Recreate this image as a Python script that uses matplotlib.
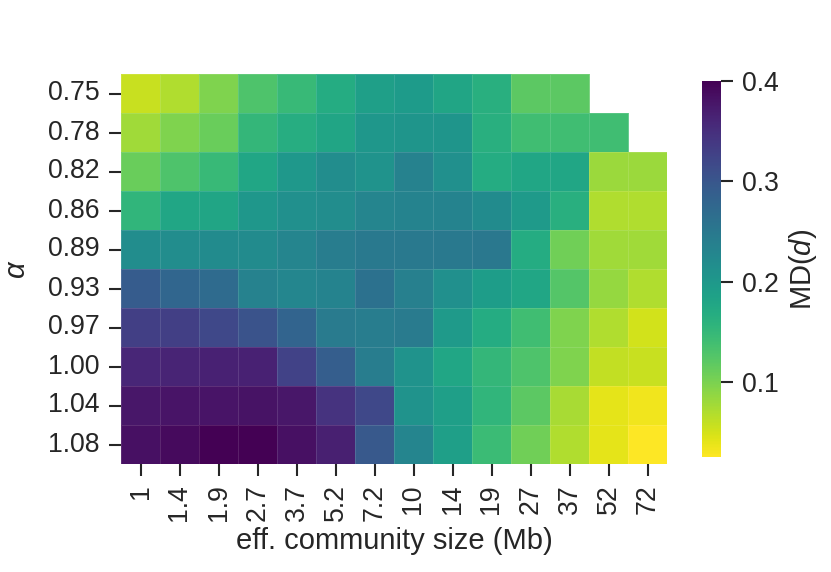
import numpy as np
import matplotlib
matplotlib.use("Agg")
import matplotlib.pyplot as plt
import seaborn as sns

sizes = ["1", "1.4", "1.9", "2.7", "3.7", "5.2", "7.2", "10", "14", "19", "27", "37", "52", "72"]
alphas = ["0.75", "0.78", "0.82", "0.86", "0.89", "0.93", "0.97", "1.00", "1.04", "1.08"]
nan = np.nan
r075 = [0.056, 0.070, 0.097, 0.130, 0.148, 0.170, 0.190, 0.195, 0.180, 0.163, 0.120, 0.120, nan, nan]
r078 = [0.078, 0.097, 0.110, 0.152, 0.167, 0.180, 0.202, 0.205, 0.205, 0.163, 0.140, 0.140, 0.140, nan]
r082 = [0.110, 0.130, 0.148, 0.178, 0.200, 0.217, 0.208, 0.235, 0.213, 0.170, 0.178, 0.178, 0.082, 0.082]
r086 = [0.155, 0.178, 0.180, 0.202, 0.213, 0.218, 0.230, 0.232, 0.232, 0.220, 0.197, 0.163, 0.070, 0.070]
r089 = [0.218, 0.218, 0.220, 0.220, 0.230, 0.242, 0.248, 0.248, 0.248, 0.250, 0.170, 0.107, 0.078, 0.078]
r093 = [0.293, 0.278, 0.270, 0.235, 0.228, 0.232, 0.260, 0.238, 0.213, 0.193, 0.178, 0.126, 0.085, 0.070]
r097 = [0.330, 0.330, 0.319, 0.304, 0.280, 0.245, 0.242, 0.245, 0.197, 0.170, 0.140, 0.097, 0.070, 0.050]
r100 = [0.360, 0.363, 0.366, 0.366, 0.326, 0.289, 0.242, 0.208, 0.178, 0.152, 0.130, 0.097, 0.060, 0.057]
r104 = [0.378, 0.380, 0.380, 0.381, 0.378, 0.345, 0.319, 0.208, 0.190, 0.155, 0.120, 0.074, 0.040, 0.033]
r108 = [0.385, 0.390, 0.400, 0.400, 0.385, 0.367, 0.296, 0.230, 0.190, 0.145, 0.107, 0.070, 0.040, 0.025]

data = np.array([r075, r078, r082, r086, r089, r093, r097, r100, r104, r108])

sns.set_theme(style="ticks")
plt.rcParams['font.family'] = ['Liberation Sans', 'DejaVu Sans']
plt.rcParams['mathtext.fontset'] = 'custom'
plt.rcParams['mathtext.it'] = 'Liberation Sans:italic'
plt.rcParams['mathtext.rm'] = 'Liberation Sans'

fig = plt.figure(figsize=(8.31, 5.72), dpi=100)
ax = fig.add_axes([121/831, 1-464/572, 546/831, 390/572])
cax = fig.add_axes([702/831, 1-457/572, 19/831, 376/572])

sns.heatmap(data, ax=ax, cbar_ax=cax, cmap="viridis_r",
            xticklabels=sizes, yticklabels=alphas,
            linewidths=0.4, linecolor=(1, 1, 1, 0.12),
            cbar_kws={"ticks": [0.1, 0.2, 0.3, 0.4]})

fs = 19.2
lfs = 21
ax.tick_params(axis='both', labelsize=fs, length=8.5, width=1.5, color='#262626')
ax.tick_params(axis='x', pad=6)
ax.tick_params(axis='y', pad=7)
ax.set_xticklabels(sizes, rotation=90)
ax.set_yticklabels(alphas, rotation=0)
ax.set_xlabel("eff. community size (Mb)", fontsize=lfs, labelpad=4)
ax.set_ylabel(r"$\alpha$", fontsize=lfs, labelpad=12)

cax.tick_params(labelsize=fs, length=8.5, width=1.5, color='#262626', pad=6.5)
cax.set_ylabel(r"MD($d$)", fontsize=lfs, labelpad=6)
for s in cax.spines.values():
    s.set_visible(False)

fig.savefig("out.png", dpi=100)
